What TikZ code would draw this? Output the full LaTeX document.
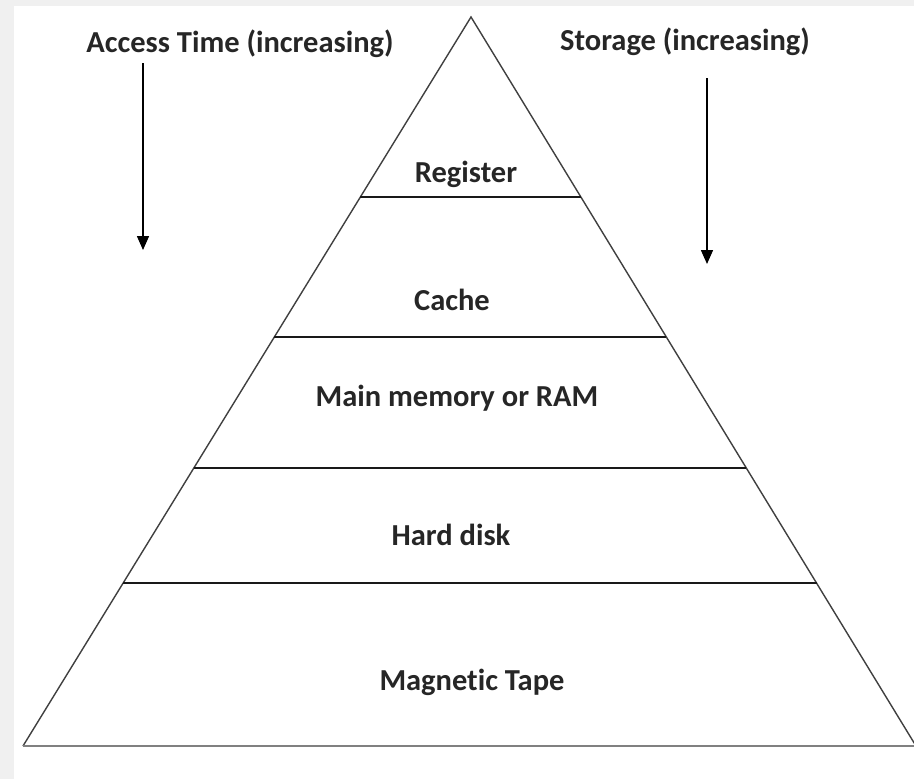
\documentclass[tikz,border=0pt]{standalone}
\usepackage{fontspec}
\setmainfont{Carlito}[Ligatures=NoCommon]
\usetikzlibrary{arrows.meta,calc}
\begin{document}
\begin{tikzpicture}[x=1pt,y=-1pt,
  lbl/.style={anchor=base,inner sep=0pt,text=black!85,font=\fontsize{30.5}{33}\selectfont\bfseries},
  side/.style={draw=black!75,line width=1.4pt},
  band/.style={draw=black!90,line width=1.4pt},
  basel/.style={draw=black!50,line width=2.4pt},
  arr/.style={draw=black,line width=1.5pt,-{Triangle[width=12pt,length=14pt]}}]
\useasboundingbox (0,0) rectangle (914,779);
\fill[black!6] (0,0) rectangle (914,779);
\fill[white] (14,6) rectangle (914,779);
% pyramid
\coordinate (apex) at (471,17);
\coordinate (bl) at (23,746);
\coordinate (br) at (916,746);
\draw[side] (bl) -- (apex) -- (br);
\draw[basel] (bl) -- (br);
% band lines
\foreach \n/\yy in {r/197,c/337,m/468,h/583}{
  \coordinate (\n L) at ($(apex)!{(\yy-17)/729}!(bl)$);
  \coordinate (\n R) at ($(apex)!{(\yy-17)/729}!(br)$);
  \draw[band] (\n L) -- (\n R);
}
% labels
\node[lbl] (acc) at (240,52) {Access Time (increasing)};
\node[lbl] (sto) at (685,50) {Storage (increasing)};
\node[lbl] (reg) at (466,182) {Register};
\node[lbl] (cac) at (452,310) {Cache};
\node[lbl] (mm) at (457,406) {Main memory or RAM};
\node[lbl] (hd) at (451,545) {Hard disk};
\node[lbl] (mt) at (472,690) {Magnetic Tape};
% arrows
\coordinate (a1s) at (143,63);
\coordinate (a1e) at (143,250);
\coordinate (a2s) at (707,78);
\coordinate (a2e) at (707,264);
\draw[arr] (a1s) -- (a1e);
\draw[arr] (a2s) -- (a2e);
\end{tikzpicture}
\end{document}
